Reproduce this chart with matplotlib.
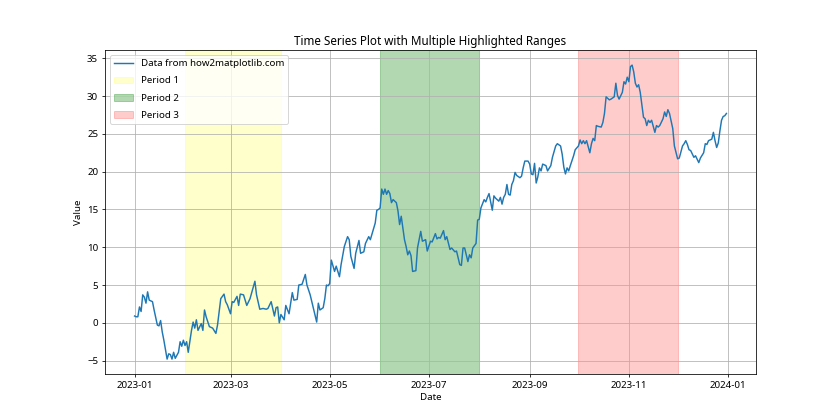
#!/usr/bin/env python3
# coding: utf-8

"""
时间序列图，带多个高亮区间
"""

import pandas as pd
import matplotlib.pyplot as plt

plt.rcParams['font.family'] = ['Noto Sans', 'DejaVu Sans']

# 日期偏移（距 2023-01-01 的天数）和对应数值
day_offset = [
    0, 1, 2, 3, 4, 5, 6, 7, 8, 9, 11, 12, 14, 15, 16, 17, 18, 20, 21, 22,
    23, 24, 25, 27, 28, 29, 30, 31, 32, 33, 35, 36, 37, 38, 39, 41, 42, 43, 44, 46,
    48, 50, 51, 53, 55, 56, 57, 59, 60, 61, 63, 64, 65, 67, 69, 71, 74, 75, 77, 79,
    81, 82, 84, 86, 87, 88, 89, 90, 92, 93, 95, 97, 98, 100, 101, 103, 105, 106, 108, 110,
    112, 113, 114, 116, 117, 118, 119, 120, 121, 123, 124, 126, 127, 129, 131, 132, 133, 135, 136, 138,
    139, 141, 142, 144, 145, 147, 148, 149, 150, 151, 152, 153, 154, 155, 156, 157, 158, 159, 161, 162,
    163, 164, 166, 167, 168, 169, 170, 171, 173, 174, 176, 177, 179, 180, 182, 183, 185, 186, 187, 188,
    190, 191, 192, 194, 195, 197, 198, 200, 201, 202, 203, 204, 205, 206, 207, 208, 210, 211, 212, 213,
    215, 216, 217, 218, 219, 220, 221, 222, 224, 225, 226, 227, 228, 229, 230, 231, 232, 233, 234, 235,
    237, 238, 239, 240, 242, 243, 244, 245, 246, 247, 248, 249, 250, 251, 253, 254, 256, 257, 259, 260,
    262, 263, 264, 265, 266, 267, 268, 270, 271, 273, 274, 275, 276, 277, 278, 280, 281, 282, 283, 284,
    285, 287, 288, 289, 290, 292, 293, 295, 296, 297, 298, 300, 301, 302, 303, 304, 305, 306, 307, 308,
    309, 310, 311, 313, 314, 315, 316, 317, 318, 320, 321, 322, 323, 325, 326, 327, 328, 329, 331, 332,
    334, 335, 337, 338, 339, 340, 341, 342, 344, 345, 347, 348, 350, 351, 352, 353, 355, 356, 357, 358,
    359, 360, 361, 362, 363, 364,
]
values = [
    0.9, 0.8, 0.8, 2.1, 1.5, 3.7, 3.4, 2.6, 4.1, 3.0, 2.8, 1.7, -0.3, -0.4, 0.3, -1.2, -2.3, -4.8, -4.1, -4.2,
    -4.8, -3.9, -4.7, -3.9, -2.5, -3.1, -2.3, -3.0, -2.5, -3.9, -1.0, 0.1, -0.7, 0.4, -1.0, -0.1, -1.0, 1.7, 0.8, -0.5,
    -0.7, -1.4, -0.3, 3.2, 3.8, 2.8, 2.4, 1.2, 2.8, 2.7, 3.5, 2.3, 3.8, 3.7, 2.3, 3.2, 5.5, 3.7, 1.8, 1.9,
    1.8, 1.9, 2.8, 0.9, 2.0, 2.1, 0.0, 1.1, 0.4, 2.3, 1.2, 4.0, 3.0, 3.1, 5.0, 5.1, 6.4, 5.0, 3.7, 1.9,
    0.1, 2.6, 1.7, 2.0, 3.2, 5.0, 4.9, 5.2, 8.3, 6.8, 7.5, 6.1, 7.7, 10.1, 11.4, 11.0, 8.8, 7.2, 9.2, 10.9,
    9.2, 9.4, 10.5, 11.4, 11.0, 12.5, 13.2, 14.9, 15.0, 15.2, 17.7, 17.0, 17.7, 17.0, 17.5, 17.1, 15.9, 16.3, 15.9, 14.8,
    13.0, 14.1, 11.0, 10.1, 9.0, 9.5, 8.9, 6.8, 6.9, 9.9, 12.1, 10.8, 11.0, 9.5, 10.8, 10.7, 11.8, 11.1, 11.3, 11.2,
    12.2, 11.0, 11.4, 9.7, 9.9, 9.4, 9.5, 7.7, 7.6, 9.9, 9.9, 9.0, 8.1, 9.0, 8.6, 9.9, 10.5, 13.6, 13.7, 15.2,
    16.3, 16.0, 16.6, 17.1, 16.0, 14.9, 16.8, 16.5, 16.1, 16.6, 15.7, 16.6, 17.0, 18.3, 17.0, 16.9, 18.3, 18.8, 19.9, 19.5,
    19.2, 19.4, 20.5, 21.4, 21.4, 21.0, 19.7, 19.6, 21.1, 18.5, 19.3, 20.5, 20.1, 21.0, 20.8, 20.1, 20.8, 21.9, 23.4, 23.7,
    23.4, 22.3, 20.6, 19.7, 20.5, 20.1, 20.8, 22.1, 22.9, 23.4, 24.2, 23.7, 24.1, 23.7, 24.1, 22.5, 23.7, 24.4, 24.1, 26.1,
    26.0, 25.9, 26.5, 27.7, 29.9, 29.5, 29.6, 29.9, 31.7, 30.1, 29.6, 30.5, 31.9, 31.6, 32.5, 31.9, 33.9, 34.1, 33.2, 31.7,
    31.2, 31.5, 30.5, 27.2, 27.0, 26.1, 26.8, 26.5, 26.8, 25.2, 26.1, 25.9, 26.1, 27.0, 27.9, 27.3, 28.2, 27.7, 25.7, 23.4,
    21.7, 21.8, 23.4, 23.7, 24.1, 23.6, 22.9, 22.8, 21.9, 22.1, 21.2, 21.8, 22.5, 23.7, 23.6, 24.1, 24.3, 25.2, 24.1, 23.2,
    23.8, 25.4, 26.8, 27.3, 27.4, 27.7,
]

# 高亮区间
period_starts = ['2023-02-01', '2023-06-01', '2023-10-01']
period_ends = ['2023-04-01', '2023-08-01', '2023-12-01']
period_labels = ['Period 1', 'Period 2', 'Period 3']
period_colors = ['yellow', 'green', 'red']
period_alphas = [0.2, 0.3, 0.2]

dates = pd.Timestamp('2023-01-01') + pd.to_timedelta(day_offset, unit='D')

fig, ax = plt.subplots(figsize=(12, 6), dpi=70)

# 绘制折线
ax.plot(dates, values, label='Data from how2matplotlib.com')

# 高亮区间
for start, end, label, color, alpha in zip(period_starts, period_ends, period_labels, period_colors, period_alphas):
    ax.axvspan(pd.Timestamp(start), pd.Timestamp(end), color=color, alpha=alpha, label=label)

ax.set_title('Time Series Plot with Multiple Highlighted Ranges')
ax.set_xlabel('Date')
ax.set_ylabel('Value')
ax.legend(loc='upper left', labelspacing=0.85)
ax.grid(True)

plt.savefig('out.png')
